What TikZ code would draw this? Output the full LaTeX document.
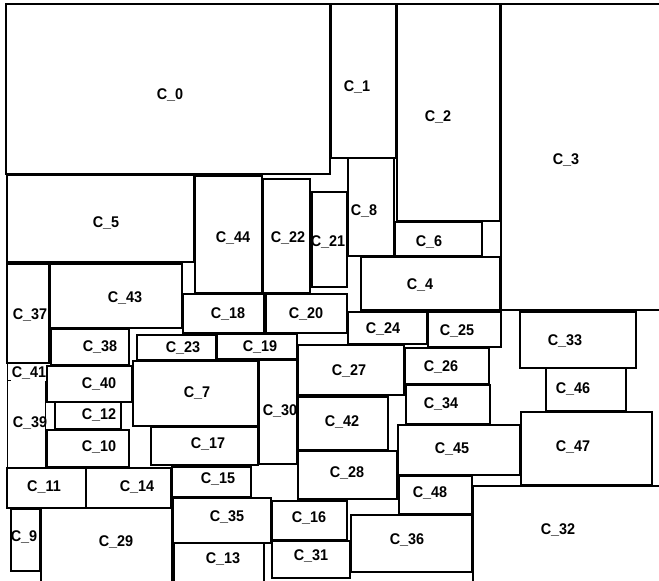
\documentclass[tikz,border=0pt]{standalone}
\usepackage{fontspec}
\newfontfamily\labfont[FakeStretch=0.93]{Liberation Sans}
\usetikzlibrary{fit}
\tikzset{
  blk/.style={draw=black, line width=1.1pt, inner sep=0pt, fill=none},
  ghost/.style={inner sep=0pt},
  edge/.style={draw=black, line width=1.1pt},
  lab/.style={font=\labfont\bfseries\fontsize{15.5}{15.5}\selectfont, inner sep=0pt, anchor=center}
}
% #1 number, #2-#5 corners (px), #6-#7 label position (px)
\newcommand\blk[7]{%
  \node[blk, fit={(#2,#3) (#4,#5)}] (c#1) {};
  \node[lab] (l#1) at (#6,#7) {C\_#1};
}
\newcommand\gblk[7]{%
  \node[ghost, fit={(#2,#3) (#4,#5)}] (c#1) {};
  \node[lab] (l#1) at (#6,#7) {C\_#1};
}
\begin{document}
\begin{tikzpicture}[x=1pt, y=-1pt]
\useasboundingbox (0,0) rectangle (659,581);
\fill[white] (0,0) rectangle (659,581);
\clip (0,0) rectangle (659,581);
\blk{0}{6}{4}{330}{174}{170}{95}
\blk{1}{331}{4}{396}{158}{357}{87}
\blk{2}{397}{4}{500}{221}{438}{117}
\blk{3}{501}{4}{664}{310}{566}{160}
\blk{5}{7}{175}{194}{262}{106}{223}
\blk{44}{195}{176}{262}{293}{233}{238}
\blk{22}{263}{179}{310}{293}{288}{238}
\blk{21}{312}{192}{347}{287}{328}{242}
\blk{8}{348}{158}{394}{256}{364}{211}
\blk{6}{395}{222}{482}{256}{429}{242}
\blk{4}{361}{257}{500}{310}{420}{285}
\blk{37}{7}{264}{49}{363}{30}{315}
\blk{43}{50}{264}{182}{328}{125}{298}
\blk{18}{183}{294}{264}{333}{228}{314}
\blk{20}{266}{294}{347}{333}{306}{314}
\blk{24}{348}{312}{427}{344}{383}{329}
\blk{25}{428}{312}{501}{347}{457}{331}
\blk{33}{520}{312}{636}{368}{565}{341}
\blk{38}{51}{329}{129}{365}{100}{347}
\blk{23}{137}{335}{216}{360}{183}{348}
\blk{19}{217}{334}{297}{359}{260}{347}
\blk{27}{298}{345}{404}{395}{349}{371}
\blk{26}{405}{348}{489}{384}{441}{367}
\blk{46}{546}{368}{626}{411}{573}{389}
\gblk{41}{8}{364}{46}{380}{29}{373}
\path[edge] ([xshift=3pt]c41.north west) -- (c41.north west) -- (c41.south west) -- ([xshift=3pt]c41.south west);
\blk{40}{47}{366}{132}{402}{99}{384}
\blk{7}{133}{361}{258}{426}{197}{393}
\blk{30}{259}{360}{297}{464}{280}{411}
\blk{42}{298}{397}{388}{450}{342}{422}
\blk{34}{406}{385}{490}{424}{441}{404}
\blk{12}{55}{402}{121}{429}{99}{415}
\gblk{39}{8}{381}{45}{468}{30}{423}
\path[edge] (c39.north west) -- (c39.south west) -- (c39.south east) -- (c39.north east);
\blk{45}{398}{425}{520}{475}{452}{449}
\blk{47}{521}{412}{652}{485}{573}{447}
\blk{10}{47}{430}{129}{467}{99}{447}
\blk{17}{151}{427}{258}{465}{208}{444}
\blk{28}{298}{451}{397}{499}{347}{473}
\blk{15}{172}{467}{251}{497}{218}{479}
\blk{11}{7}{468}{86}{508}{44}{487}
\blk{14}{86}{468}{171}{508}{137}{487}
\blk{48}{399}{476}{472}{514}{430}{493}
\blk{35}{173}{498}{271}{543}{227}{517}
\blk{16}{272}{501}{347}{540}{309}{518}
\blk{36}{351}{515}{472}{572}{407}{540}
\blk{32}{473}{486}{664}{586}{558}{530}
\blk{9}{11}{509}{40}{571}{24}{537}
\blk{29}{41}{508}{172}{586}{116}{542}
\blk{13}{174}{543}{264}{586}{223}{559}
\blk{31}{272}{541}{350}{578}{311}{556}
\end{tikzpicture}
\end{document}
